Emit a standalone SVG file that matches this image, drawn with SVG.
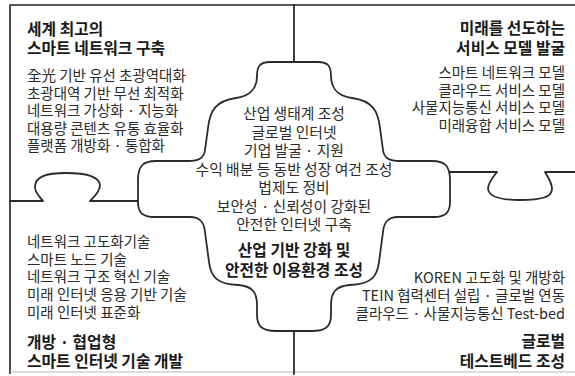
<svg xmlns="http://www.w3.org/2000/svg" width="575" height="376" viewBox="0 0 575 376">
<style>
.ln{fill:none;stroke:#2a2a2a;stroke-width:1.8;stroke-linejoin:round;stroke-linecap:round}
.frame{fill:none;stroke:#222;stroke-width:1.6}
.t{font-family:"Noto Sans CJK KR","Noto Sans",sans-serif;fill:#2b2b2b}
.b{font-size:14.5px;font-weight:400}
.cb{font-size:14.8px;font-weight:400}
.h{font-size:15.8px;font-weight:700;fill:#1a1a1a}
.c{text-anchor:middle}
.r{text-anchor:end}
</style>
<rect width="575" height="376" fill="#fff"/>
<g id="connectors">
<path class="frame" d="M10,374 L10,5 L575,5"/>
<path d="M10,372 L575,372" fill="none" stroke="#bbb" stroke-width="1.2"/>
<path class="ln" d="M294,5 L294,62"/>
<path class="ln" d="M294,331 L294,374"/>
<path class="ln" d="M10,201 L43,201 C40,197 34,192 35,186 C36,177 45,173 66,173 C88,173 99,177 100,185 C100,192 94,197 90,201 L138,201"/>
<path class="ln" d="M450,172 L497,172 C494,176 488,182 488,189 C489,197 500,200 520,200 C542,200 552,197 552,189 C552,182 547,176 545,172 L575,172"/>
</g>
<g id="center">
<path class="ln" d="M294,62 L318,62 C328,62 331,66 331,76 C331,86 336,96 352,98 C372,101 378,110 380,128 L383,150 C384,158 389,161 400,161 L432,161 C445,161 450,166 450,180 L450,202 C450,213 445,217 434,217 L398,217 C388,217 384,222 383,232 L379,262 C377,278 370,284 350,285 C336,286 331,292 331,305 L331,315 C331,327 325,331 312,331 L276,331 C263,331 257,327 257,315 L257,305 C257,292 252,286 238,285 C218,284 211,278 209,262 L205,232 C204,222 200,217 190,217 L154,217 C143,217 138,213 138,202 L138,180 C138,166 143,161 156,161 L188,161 C199,161 204,158 205,150 L208,128 C210,110 216,101 236,98 C252,96 257,86 257,76 C257,66 260,62 270,62 Z"/>
<g class="t cb c">
<text x="294" y="119">산업 생태계 조성</text>
<text x="294" y="137.5">글로벌 인터넷</text>
<text x="294" y="156">기업 발굴 · 지원</text>
<text x="294" y="174.5">수익 배분 등 동반 성장 여건 조성</text>
<text x="294" y="193">법제도 정비</text>
<text x="294" y="211.5">보안성 · 신뢰성이 강화된</text>
<text x="294" y="230">안전한 인터넷 구축</text>
</g>
<g class="t h c">
<text x="294" y="256">산업 기반 강화 및</text>
<text x="294" y="275.5">안전한 이용환경 조성</text>
</g>
</g>
<g id="top-left">
<g class="t h">
<text x="27" y="35">세계 최고의</text>
<text x="27" y="54">스마트 네트워크 구축</text>
</g>
<g class="t b">
<text x="27" y="81">全光 기반 유선 초광역대화</text>
<text x="27" y="98.5">초광대역 기반 무선 최적화</text>
<text x="27" y="116">네트워크 가상화 · 지능화</text>
<text x="27" y="133.5">대용량 콘텐츠 유통 효율화</text>
<text x="27" y="151">플랫폼 개방화 · 통합화</text>
</g>
</g>
<g id="top-right">
<g class="t h r">
<text x="565" y="34">미래를 선도하는</text>
<text x="565" y="54">서비스 모델 발굴</text>
</g>
<g class="t b r">
<text x="565" y="78">스마트 네트워크 모델</text>
<text x="565" y="95.5">클라우드 서비스 모델</text>
<text x="565" y="113">사물지능통신 서비스 모델</text>
<text x="565" y="131">미래융합 서비스 모델</text>
</g>
</g>
<g id="bottom-left">
<g class="t b">
<text x="27" y="247">네트워크 고도화기술</text>
<text x="27" y="264.5">스마트 노드 기술</text>
<text x="27" y="282">네트워크 구조 혁신 기술</text>
<text x="27" y="300">미래 인터넷 응용 기반 기술</text>
<text x="27" y="318">미래 인터넷 표준화</text>
</g>
<g class="t h">
<text x="27" y="348">개방 · 협업형</text>
<text x="27" y="367">스마트 인터넷 기술 개발</text>
</g>
</g>
<g id="bottom-right">
<g class="t b r">
<text x="565" y="283">KOREN 고도화 및 개방화</text>
<text x="565" y="301">TEIN 협력센터 설립 · 글로벌 연동</text>
<text x="565" y="319">클라우드 · 사물지능통신 Test-bed</text>
</g>
<g class="t h r">
<text x="565" y="347">글로벌</text>
<text x="565" y="367">테스트베드 조성</text>
</g>
</g>
</svg>
